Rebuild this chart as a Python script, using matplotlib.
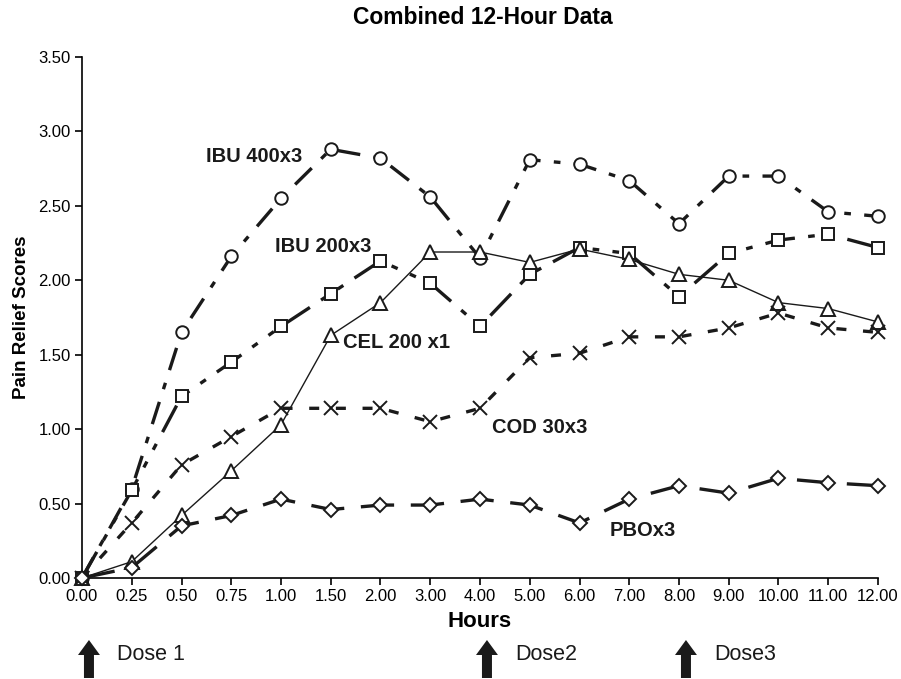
import matplotlib
matplotlib.use("Agg")
import matplotlib.pyplot as plt
from matplotlib.transforms import blended_transform_factory

plt.rcParams['font.family'] = ['Liberation Sans', 'DejaVu Sans']

hours = ["0.00", "0.25", "0.50", "0.75", "1.00", "1.50", "2.00", "3.00", "4.00",
         "5.00", "6.00", "7.00", "8.00", "9.00", "10.00", "11.00", "12.00"]
ibu400 = [0, 0.60, 1.65, 2.16, 2.55, 2.88, 2.82, 2.56, 2.15, 2.81, 2.78, 2.67, 2.38, 2.70, 2.70, 2.46, 2.43]
ibu200 = [0, 0.59, 1.22, 1.45, 1.69, 1.91, 2.13, 1.98, 1.69, 2.04, 2.22, 2.18, 1.89, 2.18, 2.27, 2.31, 2.22]
cel200 = [0, 0.11, 0.42, 0.72, 1.03, 1.63, 1.85, 2.19, 2.19, 2.12, 2.21, 2.14, 2.04, 2.00, 1.85, 1.81, 1.72]
cod30 = [0, 0.37, 0.76, 0.95, 1.14, 1.14, 1.14, 1.05, 1.14, 1.48, 1.51, 1.62, 1.62, 1.68, 1.78, 1.68, 1.65]
pbo = [0, 0.07, 0.35, 0.42, 0.53, 0.46, 0.49, 0.49, 0.53, 0.49, 0.37, 0.53, 0.62, 0.57, 0.67, 0.64, 0.62]
yticks = [0.0, 0.5, 1.0, 1.5, 2.0, 2.5, 3.0, 3.5]
doses = [("Dose 1", 0), ("Dose2", 8), ("Dose3", 12)]

fig = plt.figure(figsize=(9.01, 6.79), dpi=100)
ax = fig.add_axes([82/901, 1-578/679, (878-82)/901, (578-57)/679])
x = list(range(len(hours)))
k = '#1a1a1a'
ms = 9
ax.plot(x, ibu400, color=k, lw=2.4, dashes=(7, 4, 2, 4), marker='o', ms=ms, mfc='white', mec=k, mew=1.4, zorder=3)
ax.plot(x, ibu200, color=k, lw=2.4, dashes=(9, 4, 2, 4, 2, 4), marker='s', ms=ms, mfc='white', mec=k, mew=1.4, zorder=3)
ax.plot(x, cel200, color=k, lw=1.0, ls='-', marker='^', ms=ms+1, mfc='white', mec=k, mew=1.4, zorder=3)
ax.plot(x, cod30, color=k, lw=2.4, dashes=(3, 5), marker='x', ms=ms+1, mec=k, mew=1.4, zorder=3)
ax.plot(x, pbo, color=k, lw=2.4, dashes=(10, 5), marker='D', ms=ms-2, mfc='white', mec=k, mew=1.4, zorder=3)

ax.set_xlim(0, 16)
ax.set_ylim(0, 3.5)
ax.set_xticks(x)
ax.set_xticklabels(hours, fontsize=12)
ax.set_yticks(yticks)
ax.set_yticklabels([f"{v:.2f}" for v in yticks], fontsize=12)
for s in ['top', 'right']:
    ax.spines[s].set_visible(False)
ax.spines['left'].set_linewidth(1.2)
ax.spines['bottom'].set_linewidth(1.2)
ax.tick_params(length=5, width=1.2, pad=3)
for line in ax.lines:
    line.set_clip_on(False)

ax.set_xlabel("Hours", fontsize=16, fontweight='bold', labelpad=5)
ax.set_ylabel("Pain Relief Scores", fontsize=13.5, fontweight='bold', labelpad=6)
fig.text(483/901, 1-17/679, "Combined 12-Hour Data", ha='center', va='center', fontsize=16.5, fontweight='bold')

lab = dict(fontsize=14.5, fontweight='bold', color=k)
ax.text(2.5, 2.83, "IBU 400x3", ha='left', va='center', **lab)
ax.text(3.88, 2.23, "IBU 200x3", ha='left', va='center', **lab)
ax.text(5.25, 1.58, "CEL 200 x1", ha='left', va='center', **lab)
ax.text(8.24, 1.01, "COD 30x3", ha='left', va='center', **lab)
ax.text(10.61, 0.32, "PBOx3", ha='left', va='center', **lab)

tr = blended_transform_factory(ax.transData, fig.transFigure)
for name, pos in doses:
    ax.annotate("", xy=(pos + 0.14, 1-640/679), xytext=(pos + 0.14, 1-678/679),
                xycoords=tr, textcoords=tr,
                arrowprops=dict(arrowstyle='simple,head_width=15.8,head_length=10.8,tail_width=7.2',
                                mutation_scale=1, shrinkA=0, shrinkB=0, color=k, lw=0),
                annotation_clip=False)
    ax.text(pos + 0.7, 1-655/679, name, transform=tr, fontsize=15.5, va='center', ha='left',
            color=k, clip_on=False)

fig.savefig("out.png", dpi=100)
